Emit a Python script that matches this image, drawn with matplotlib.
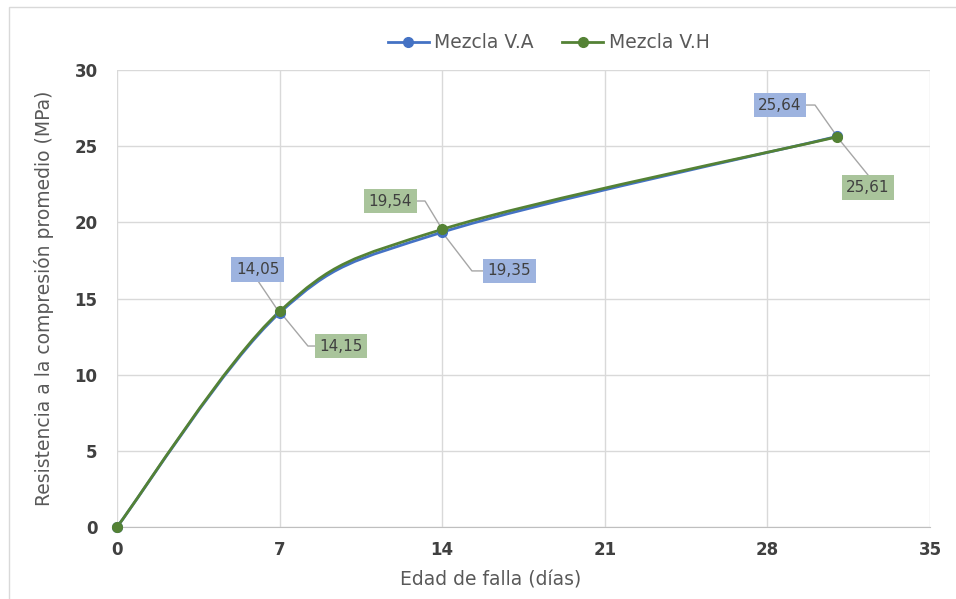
import matplotlib.pyplot as plt
import numpy as np
from matplotlib.path import Path
from matplotlib.patches import PathPatch, Rectangle

# data
dias = [0, 7, 14, 31]
mezcla_va = [0, 14.05, 19.35, 25.64]
mezcla_vh = [0, 14.15, 19.54, 25.61]
etiquetas_va = ['0', '14,05', '19,35', '25,64']
etiquetas_vh = ['0', '14,15', '19,54', '25,61']
x_ticks = [0, 7, 14, 21, 28, 35]
y_ticks = [0, 5, 10, 15, 20, 25, 30]

# label boxes: center (data coords) and leader line start points
pos_va = [None,
          ((6.05, 16.90), [(6.07, 16.15)]),
          ((16.90, 16.81), [(15.93, 16.81), (15.28, 16.81)]),
          ((28.54, 27.70), [(29.66, 27.70), (30.05, 27.70)])]
pos_vh = [None,
          ((9.64, 11.88), [(8.61, 11.88), (8.22, 11.88)]),
          ((11.77, 21.40), [(12.87, 21.40), (13.26, 21.40)]),
          ((32.33, 22.29), [(32.33, 23.11)])]

azul = '#4472C4'
verde = '#548235'
caja_azul = '#9DB3DF'
caja_verde = '#A9C49B'
gris_txt = '#595959'


def smooth_path(x, y, t=1.0 / 6):
    # Excel-like smoothed line: Bezier segments with Catmull-Rom control points
    x = np.asarray(x, float)
    y = np.asarray(y, float)
    n = len(x)
    verts = [(x[0], y[0])]
    codes = [Path.MOVETO]
    for i in range(n - 1):
        p0 = np.array([x[max(i - 1, 0)], y[max(i - 1, 0)]])
        p1 = np.array([x[i], y[i]])
        p2 = np.array([x[i + 1], y[i + 1]])
        p3 = np.array([x[min(i + 2, n - 1)], y[min(i + 2, n - 1)]])
        c1 = p1 + (p2 - p0) * t
        c2 = p2 - (p3 - p1) * t
        verts += [tuple(c1), tuple(c2), tuple(p2)]
        codes += [Path.CURVE4] * 3
    return Path(verts, codes)


fig = plt.figure(figsize=(9.56, 5.99), dpi=100)
ax = fig.add_axes([117 / 956, 72 / 599, (930 - 117) / 956, (527 - 70) / 599])

# outer chart border (only top/left visible)
fig.patches.append(Rectangle((9 / 956, -0.1), 1.2, (592 / 599) + 0.1, transform=fig.transFigure,
                             fill=False, edgecolor='#D9D9D9', linewidth=1, zorder=0))

for xs, ys, col, lab in [(dias, mezcla_va, azul, 'Mezcla V.A'), (dias, mezcla_vh, verde, 'Mezcla V.H')]:
    ax.add_patch(PathPatch(smooth_path(xs, ys), facecolor='none', edgecolor=col, linewidth=2,
                           capstyle='round', zorder=3))
    ax.plot(xs, ys, linestyle='none', marker='o', markersize=7, color=col, zorder=4, clip_on=False)
    ax.plot([], [], color=col, linewidth=2, marker='o', markersize=7, label=lab)


def etiqueta(px, py, info, texto, color):
    (bx, by), leader = info
    ax.text(bx, by, texto, ha='center', va='center', fontsize=11, color='#404040', zorder=6,
            bbox=dict(boxstyle='square,pad=0.3', facecolor=color, edgecolor='none'))
    pts = leader + [(px, py)]
    ax.plot([p[0] for p in pts], [p[1] for p in pts], color='#A6A6A6', linewidth=1, zorder=2)


for i in range(1, len(dias)):
    etiqueta(dias[i], mezcla_va[i], pos_va[i], etiquetas_va[i], caja_azul)
    etiqueta(dias[i], mezcla_vh[i], pos_vh[i], etiquetas_vh[i], caja_verde)

ax.set_xlim(0, 35)
ax.set_ylim(0, 30)
ax.set_xticks(x_ticks)
ax.set_yticks(y_ticks)
ax.grid(True, color='#D9D9D9', linewidth=1)
ax.set_axisbelow(True)
for s in ['top', 'right', 'left']:
    ax.spines[s].set_visible(False)
ax.spines['bottom'].set_color('#BFBFBF')
ax.tick_params(length=0, labelsize=12, colors='#404040', pad=10)
for t in ax.get_xticklabels() + ax.get_yticklabels():
    t.set_fontweight('bold')
ax.tick_params(axis='y', pad=14)

ax.set_xlabel('Edad de falla (días)', fontsize=13.5, color=gris_txt)
ax.xaxis.set_label_coords((491 - 117) / 813, -(570 - 527) / 457)
ax.set_ylabel('Resistencia a la compresión promedio (MPa)', fontsize=13.5, color=gris_txt)
ax.yaxis.set_label_coords(-(117 - 54) / 813, 0.5)

fig.legend(loc='center', bbox_to_anchor=(0.574, 1 - 43 / 599), ncol=2, frameon=False,
           fontsize=13.5, labelcolor=gris_txt, handlelength=2.2, columnspacing=1.5, handletextpad=0.3)

fig.savefig('out.png', dpi=100, facecolor='white')
